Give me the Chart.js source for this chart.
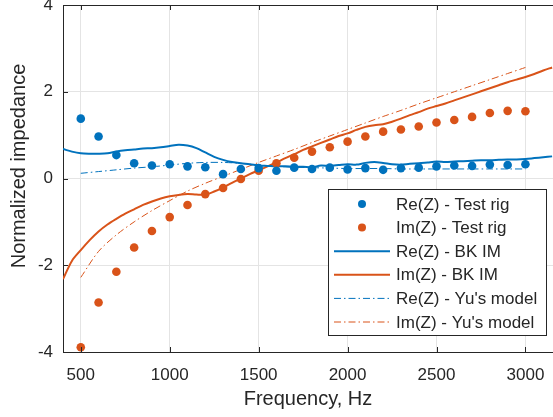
<!DOCTYPE html>
<html>
<head>
<meta charset="utf-8">
<script src="https://cdn.jsdelivr.net/npm/chart.js@4.4.0/dist/chart.umd.min.js"></script>
<style>
body{margin:0;background:#fff;}
#wrap{width:553px;height:417px;}
</style>
</head>
<body>
<div id="wrap"><canvas id="chart" width="553" height="417"></canvas></div>
<script>
// axis setup
const xTicks=[500,1000,1500,2000,2500,3000];
const yTicks=[-4,-2,0,2,4];
const xRange=[400,3155];
const yRange=[-4,4];

// test rig points (every 100 Hz)
const rigFreq=[500,600,700,800,900,1000,1100,1200,1300,1400,1500,1600,1700,1800,1900,2000,2100,2200,2300,2400,2500,2600,2700,2800,2900,3000];
const reRig=[1.38,0.97,0.54,0.35,0.30,0.33,0.28,0.26,0.10,0.22,0.24,0.18,0.25,0.22,0.25,0.21,0.24,0.20,0.24,0.25,0.28,0.30,0.29,0.32,0.31,0.33];
const imRig=[-3.89,-2.86,-2.15,-1.59,-1.21,-0.89,-0.61,-0.36,-0.22,-0.01,0.18,0.35,0.48,0.62,0.72,0.85,0.97,1.08,1.13,1.20,1.29,1.35,1.42,1.51,1.56,1.55];

// BK impedance meter curves
const bkFreq=[400,450,500,550,600,650,700,750,800,850,900,950,1000,1050,1100,1150,1200,1250,1300,1350,1400,1450,1500,1550,1600,1650,1700,1750,1800,1850,1900,1950,2000,2050,2100,2150,2200,2250,2300,2350,2400,2450,2500,2550,2600,2650,2700,2750,2800,2850,2900,2950,3000,3050,3100,3150];
const reBK=[0.68,0.62,0.58,0.57,0.57,0.58,0.62,0.65,0.67,0.69,0.70,0.72,0.75,0.78,0.76,0.70,0.60,0.50,0.43,0.38,0.35,0.33,0.30,0.29,0.28,0.28,0.27,0.27,0.26,0.30,0.29,0.31,0.33,0.32,0.36,0.38,0.36,0.33,0.32,0.34,0.35,0.37,0.39,0.38,0.39,0.40,0.41,0.42,0.42,0.43,0.44,0.44,0.45,0.47,0.49,0.51];
const imBK=[-2.32,-1.90,-1.65,-1.42,-1.22,-1.06,-0.93,-0.81,-0.71,-0.61,-0.53,-0.46,-0.41,-0.38,-0.36,-0.37,-0.37,-0.30,-0.21,-0.10,0.00,0.10,0.19,0.28,0.37,0.47,0.56,0.66,0.74,0.82,0.90,0.98,1.04,1.12,1.19,1.23,1.25,1.31,1.38,1.46,1.53,1.61,1.67,1.73,1.80,1.87,1.94,2.01,2.08,2.15,2.22,2.28,2.34,2.41,2.49,2.56];

// Yu's model
const yuFreq=[500,600,700,800,900,1000,1100,1200,1300,1400,1500,1600,1700,1800,1900,2000,2100,2200,2300,2400,2500,2600,2700,2800,2900,3000];
const reYu=[0.12,0.16,0.20,0.24,0.27,0.31,0.35,0.37,0.37,0.35,0.31,0.28,0.26,0.25,0.24,0.23,0.23,0.23,0.22,0.22,0.22,0.22,0.22,0.22,0.22,0.22];
const imYu=[-2.28,-1.68,-1.30,-1.00,-0.74,-0.51,-0.29,-0.11,0.05,0.21,0.37,0.52,0.67,0.83,0.98,1.13,1.28,1.43,1.57,1.72,1.86,2.00,2.14,2.28,2.42,2.56];

const blue='#0072BD';
const orange='#D95319';
const ink='#262626';
const dashDot=[7,3,1.5,3];

function pts(xs,ys)
{
    return xs.map(function(x,i){ return {x:x,y:ys[i]}; });
}

function noPad(s)
{
    s.paddingTop=0;
    s.paddingBottom=0;
    s.paddingLeft=0;
    s.paddingRight=0;
}

Chart.defaults.font.family="'Liberation Sans', Arial, Helvetica, sans-serif";
Chart.defaults.color=ink;

// inward tick marks, top border, y title and the boxed legend
const decor={
    id:'decor',
    afterDraw(chart)
    {
        const ctx=chart.ctx;
        const a=chart.chartArea;
        const xs=chart.scales.x, ys=chart.scales.y;
        ctx.save();
        ctx.strokeStyle=ink;
        ctx.lineWidth=1;
        ctx.beginPath();
        ctx.moveTo(a.left,a.top+0.5);
        ctx.lineTo(a.right,a.top+0.5);
        for(const t of xTicks)
        {
            const px=Math.round(xs.getPixelForValue(t))+0.5;
            ctx.moveTo(px,a.bottom);
            ctx.lineTo(px,a.bottom-5);
            ctx.moveTo(px,a.top);
            ctx.lineTo(px,a.top+5);
        }
        for(const t of yTicks)
        {
            const py=Math.round(ys.getPixelForValue(t))+0.5;
            ctx.moveTo(a.left,py);
            ctx.lineTo(a.left+5,py);
        }
        ctx.stroke();

        // y axis title
        ctx.fillStyle=ink;
        ctx.font="20px 'Liberation Sans', Arial, sans-serif";
        ctx.textAlign='center';
        ctx.textBaseline='middle';
        ctx.translate(19,166);
        ctx.rotate(-Math.PI/2);
        ctx.fillText('Normalized impedance',0,0);
        ctx.restore();

        // legend
        const bx=328, by=189, bw=218, bh=146;
        ctx.save();
        ctx.fillStyle='#fff';
        ctx.fillRect(bx,by,bw,bh);
        ctx.strokeStyle=ink;
        ctx.lineWidth=1;
        ctx.strokeRect(bx+0.5,by+0.5,bw,bh);
        ctx.font="17px 'Liberation Sans', Arial, sans-serif";
        ctx.textAlign='left';
        ctx.textBaseline='middle';
        chart.data.datasets.forEach(function(ds,i)
        {
            const cy=by+15+i*23.6;
            if(ds.showLine)
            {
                ctx.strokeStyle=ds.borderColor;
                ctx.lineWidth=ds.borderWidth;
                ctx.setLineDash(ds.borderDash||[]);
                ctx.beginPath();
                ctx.moveTo(bx+6,cy);
                ctx.lineTo(bx+62,cy);
                ctx.stroke();
                ctx.setLineDash([]);
            }
            else
            {
                ctx.fillStyle=ds.backgroundColor;
                ctx.beginPath();
                ctx.arc(bx+34,cy,4,0,Math.PI*2);
                ctx.fill();
            }
            ctx.fillStyle=ink;
            ctx.fillText(ds.label,bx+68,cy+1);
        });
        ctx.restore();
    }
};

const ctx=document.getElementById('chart').getContext('2d');
const myChart=new Chart(ctx,{
    type:'scatter',
    data:{
        datasets:[
            {label:'Re(Z) - Test rig',data:pts(rigFreq,reRig),showLine:false,pointRadius:4.3,pointBackgroundColor:blue,backgroundColor:blue,pointBorderWidth:0},
            {label:'Im(Z) - Test rig',data:pts(rigFreq,imRig),showLine:false,pointRadius:4.3,pointBackgroundColor:orange,backgroundColor:orange,pointBorderWidth:0},
            {label:'Re(Z) - BK IM',data:pts(bkFreq,reBK),showLine:true,pointRadius:0,borderColor:blue,borderWidth:2,tension:0.3},
            {label:'Im(Z) - BK IM',data:pts(bkFreq,imBK),showLine:true,pointRadius:0,borderColor:orange,borderWidth:2,tension:0.3},
            {label:"Re(Z) - Yu's model",data:pts(yuFreq,reYu),showLine:true,pointRadius:0,borderColor:blue,borderWidth:1,borderDash:dashDot,tension:0.3},
            {label:"Im(Z) - Yu's model",data:pts(yuFreq,imYu),showLine:true,pointRadius:0,borderColor:orange,borderWidth:1,borderDash:dashDot,tension:0.3}
        ]
    },
    options:{
        responsive:false,
        animation:false,
        layout:{autoPadding:false,padding:{top:5,right:0,left:0,bottom:0}},
        plugins:{
            legend:{display:false},
            tooltip:{enabled:false}
        },
        scales:{
            x:{
                type:'linear',
                min:xRange[0],
                max:xRange[1],
                afterBuildTicks:function(s){ s.ticks=xTicks.map(function(v){ return {value:v}; }); },
                afterFit:function(s){ s.height=65; noPad(s); },
                ticks:{font:{size:17},padding:13,maxRotation:0,color:ink,callback:function(v){ return String(v); }},
                grid:{color:'#e4e4e4',drawTicks:false},
                border:{color:ink,width:1},
                title:{display:true,text:'Frequency, Hz',font:{size:20},padding:{top:0,bottom:6},color:ink}
            },
            y:{
                min:yRange[0],
                max:yRange[1],
                afterBuildTicks:function(s){ s.ticks=yTicks.map(function(v){ return {value:v}; }); },
                afterFit:function(s){ s.width=63; noPad(s); },
                ticks:{font:{size:17},padding:10,color:ink,callback:function(v){ return String(v); }},
                grid:{color:'#e4e4e4',drawTicks:false},
                border:{color:ink,width:1}
            }
        }
    },
    plugins:[decor]
});
</script>
</body>
</html>
